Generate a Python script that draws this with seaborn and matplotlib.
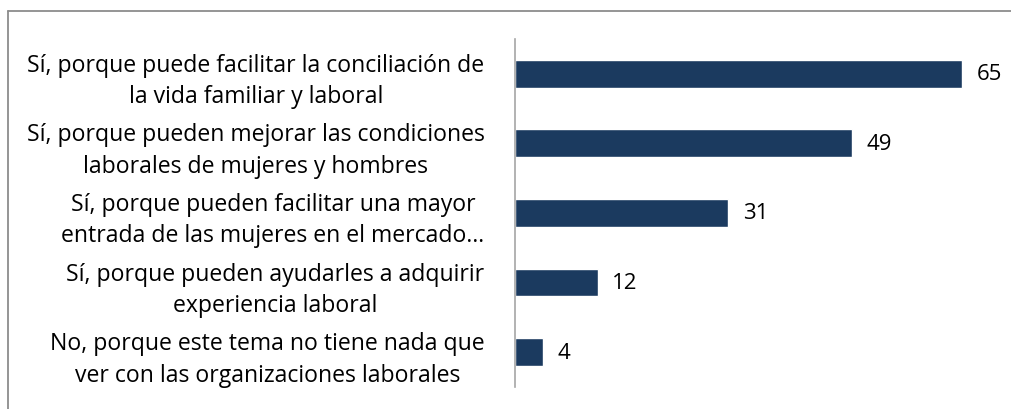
import seaborn as sns
import matplotlib.pyplot as plt
import pandas as pd
from matplotlib.lines import Line2D

# Datos
categorias = [
    "Sí, porque puede facilitar la conciliación de\nla vida familiar y laboral",
    "Sí, porque pueden mejorar las condiciones\nlaborales de mujeres y hombres",
    "Sí, porque pueden facilitar una mayor\nentrada de las mujeres en el mercado…",
    "Sí, porque pueden ayudarles a adquirir\nexperiencia laboral",
    "No, porque este tema no tiene nada que\nver con las organizaciones laborales",
]
valores = [65, 49, 31, 12, 4]

color_barra = "#1B3A5F"

df = pd.DataFrame({"categoria": categorias, "valor": valores})

sns.set_style("white")
plt.rcParams['font.family'] = ['Open Sans', 'DejaVu Sans']

fig = plt.figure(figsize=(10.12, 4.10), dpi=100)
ax = fig.add_axes([0.509, 0.0537, 0.476, 0.849])

sns.barplot(data=df, y="categoria", x="valor", orient="h", color=color_barra,
            width=0.4, saturation=1, ax=ax)

ax.set_xlim(0, 70)
ax.set_ylim(4.5, -0.5)
ax.set_xlabel("")
ax.set_ylabel("")
ax.set_xticks([])

for s in ["top", "right", "bottom"]:
    ax.spines[s].set_visible(False)
ax.spines["left"].set_color("#A6A6A6")
ax.spines["left"].set_linewidth(1.2)

ax.tick_params(axis="y", length=0, pad=22)
for lbl in ax.get_yticklabels():
    lbl.set_fontsize(16.6)
    lbl.set_color("black")
    lbl.set_multialignment("center")
    lbl.set_linespacing(1.42)

for i, v in enumerate(valores):
    ax.text(v + 2.1, i, str(v), va="center", ha="left", fontsize=16, color="black")

# Marco del gráfico (solo arriba e izquierda visibles)
fig.add_artist(Line2D([8 / 1012, 1], [1 - 12 / 410, 1 - 12 / 410],
                      transform=fig.transFigure, color="#8C8C8C", lw=1.3))
fig.add_artist(Line2D([8 / 1012, 8 / 1012], [0, 1 - 12 / 410],
                      transform=fig.transFigure, color="#8C8C8C", lw=1.3))

fig.savefig("out.png", dpi=100)
